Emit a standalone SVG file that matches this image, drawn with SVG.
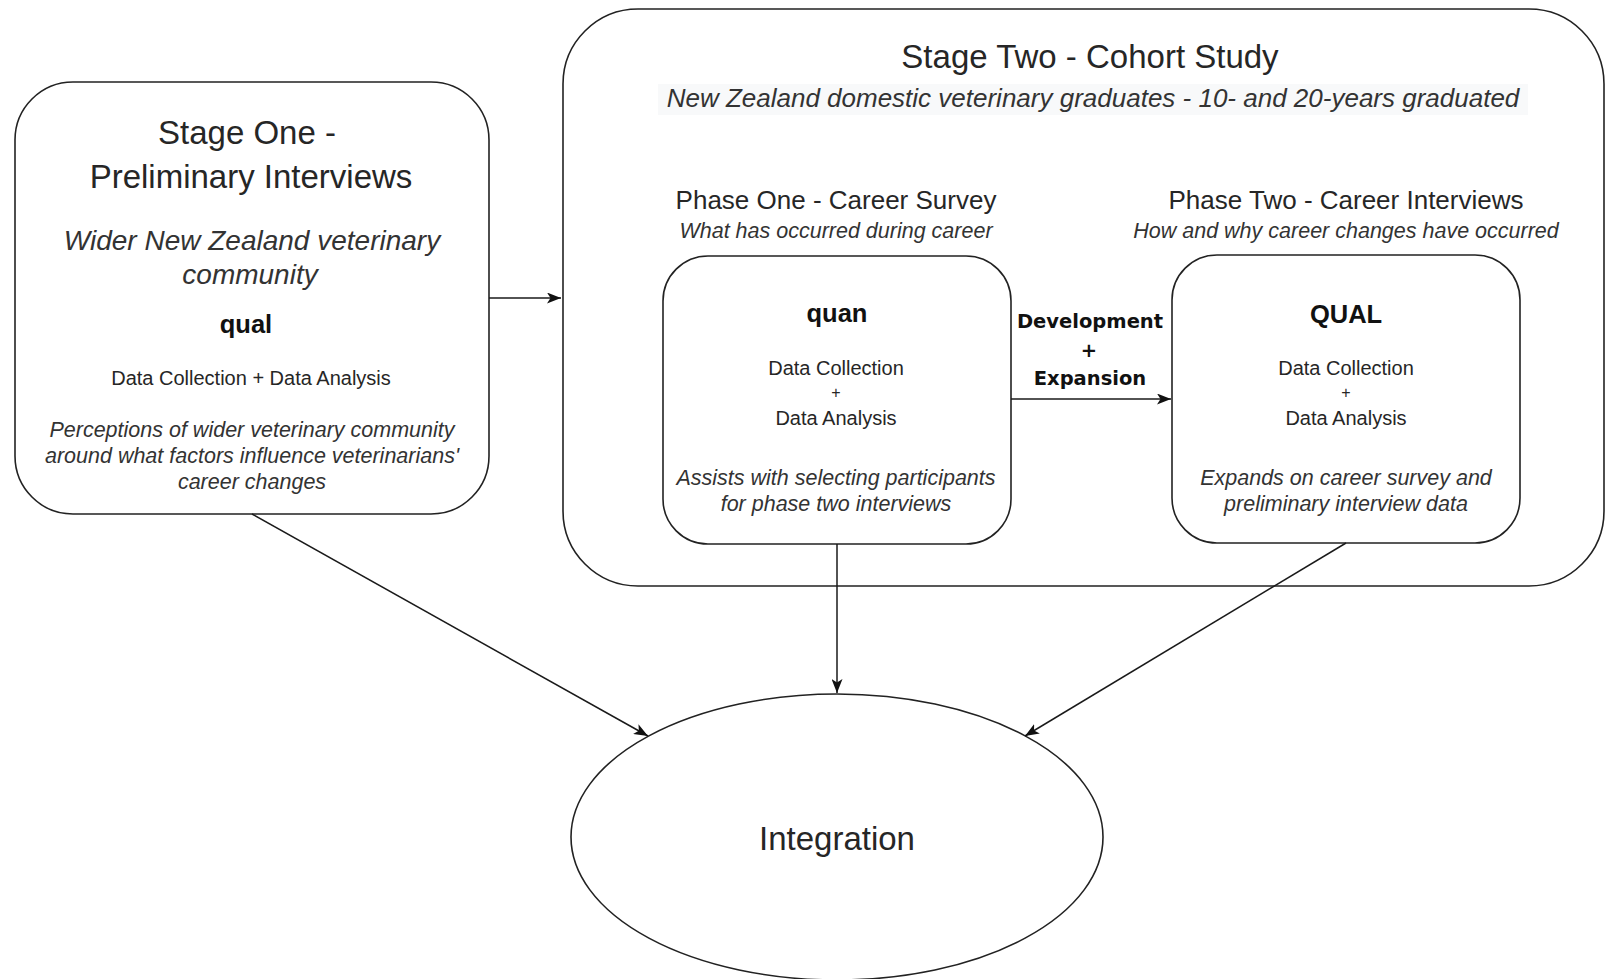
<svg xmlns="http://www.w3.org/2000/svg" width="1606" height="979" viewBox="0 0 1606 979">
  <style>
    .box { fill: #ffffff; stroke: #222222; stroke-width: 1.6; }
    .conn { fill: none; stroke: #1a1a1a; stroke-width: 1.5; }
    text { font-family: "Liberation Sans", Arial, sans-serif; text-anchor: middle; fill: #262626; }
    .h1 { font-size: 33px; }
    .h2 { font-size: 26px; }
    .it { font-style: italic; fill: #333333; }
    .it28 { font-size: 28px; }
    .it26 { font-size: 26px; }
    .it21 { font-size: 21.5px; }
    .bold { font-weight: bold; font-size: 25.5px; fill: #111111; }
    .body { font-size: 20px; }
    .plus { font-size: 16px; }
    .edge { font-family: "DejaVu Sans", Verdana, sans-serif; font-weight: bold; font-size: 19.5px; fill: #111111; }
  </style>
  <defs>
    <marker id="arrow" viewBox="0 0 14 11" refX="14" refY="5.5" markerWidth="14" markerHeight="11" markerUnits="userSpaceOnUse" orient="auto">
      <path d="M0,0 L14,5.5 L0,11 L3.5,5.5 Z" fill="#111111"/>
    </marker>
  </defs>

  <rect width="1606" height="979" fill="#ffffff"/>

  <!-- Stage one: preliminary interviews -->
  <g id="stage-one">
    <rect class="box" x="15" y="82" width="474" height="432" rx="58" ry="58"/>
    <text class="h1" x="247" y="144">Stage One -</text>
    <text class="h1" x="251" y="188">Preliminary Interviews</text>
    <text class="it it28" x="252" y="250">Wider New Zealand veterinary</text>
    <text class="it it28" x="250" y="284">community</text>
    <text class="bold" x="246" y="333">qual</text>
    <text class="body" x="251" y="385">Data Collection + Data Analysis</text>
    <text class="it it21" x="252" y="437">Perceptions of wider veterinary community</text>
    <text class="it it21" x="252" y="463">around what factors influence veterinarians'</text>
    <text class="it it21" x="252" y="489">career changes</text>
  </g>

  <!-- Stage two: cohort study container -->
  <g id="stage-two">
    <rect class="box" x="563" y="9" width="1041" height="577" rx="75" ry="75"/>
    <text class="h1" x="1090" y="68">Stage Two - Cohort Study</text>
    <rect x="658" y="84" width="870" height="31" fill="#f8f9fa"/>
    <text class="it it26" x="1093" y="107">New Zealand domestic veterinary graduates - 10- and 20-years graduated</text>
    <text class="h2" x="836" y="209">Phase One - Career Survey</text>
    <text class="it it21" x="836" y="238">What has occurred during career</text>
    <text class="h2" x="1346" y="209">Phase Two - Career Interviews</text>
    <text class="it it21" x="1346" y="238">How and why career changes have occurred</text>
  </g>

  <!-- Phase one: quantitative survey -->
  <g id="phase-one-quan">
    <rect class="box" x="663" y="256" width="348" height="288" rx="45" ry="45"/>
    <text class="bold" x="837" y="322">quan</text>
    <text class="body" x="836" y="375">Data Collection</text>
    <text class="plus" x="836" y="398">+</text>
    <text class="body" x="836" y="425">Data Analysis</text>
    <text class="it it21" x="836" y="485">Assists with selecting participants</text>
    <text class="it it21" x="836" y="511">for phase two interviews</text>
  </g>

  <!-- Phase two: qualitative interviews -->
  <g id="phase-two-qual">
    <rect class="box" x="1172" y="255" width="348" height="288" rx="45" ry="45"/>
    <text class="bold" x="1346" y="323">QUAL</text>
    <text class="body" x="1346" y="375">Data Collection</text>
    <text class="plus" x="1346" y="398">+</text>
    <text class="body" x="1346" y="425">Data Analysis</text>
    <text class="it it21" x="1346" y="485">Expands on career survey and</text>
    <text class="it it21" x="1346" y="511">preliminary interview data</text>
  </g>

  <!-- Integration -->
  <g id="integration">
    <ellipse class="box" cx="837" cy="837" rx="266" ry="143"/>
    <text class="h1" x="837" y="850">Integration</text>
  </g>

  <!-- Connectors -->
  <g id="connectors">
    <path class="conn" d="M489,298 L561,298" marker-end="url(#arrow)"/>
    <path class="conn" d="M1011,399 L1171,399" marker-end="url(#arrow)"/>
    <path class="conn" d="M252,514 L648,736" marker-end="url(#arrow)"/>
    <path class="conn" d="M837,544 L837,693" marker-end="url(#arrow)"/>
    <path class="conn" d="M1346,543 L1025,736" marker-end="url(#arrow)"/>
    <text class="edge" x="1090" y="328">Development</text>
    <text class="edge" x="1089" y="357">+</text>
    <text class="edge" x="1090" y="385">Expansion</text>
  </g>
</svg>
